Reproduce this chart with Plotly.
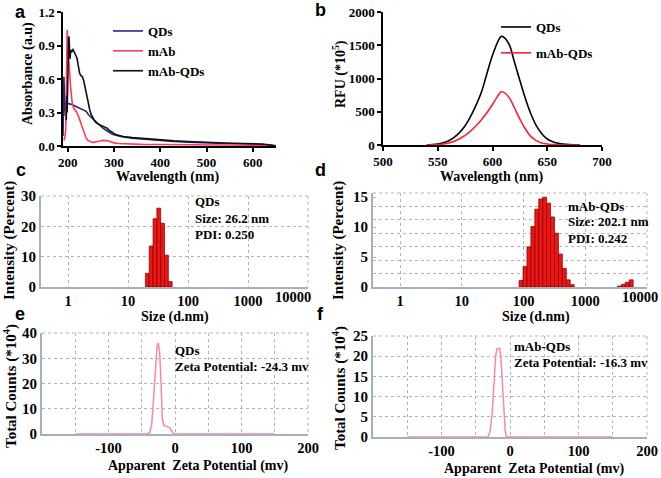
import plotly.graph_objects as go

# ---------------- data ----------------
# (a) UV-Vis absorbance
uv_wl_qds = [190, 191, 192, 193, 194, 195, 196, 197, 198, 200, 203, 206, 210, 215, 220, 225, 230, 235, 240, 245,
             250, 255, 260, 265, 270, 275, 280, 285, 290, 295, 300, 310, 320, 340, 360, 380, 400, 430, 460, 500,
             540, 580, 600, 620, 640, 650]
uv_abs_qds = [0.09, 0.25, 0.62, 0.45, 0.30, 0.27, 0.35, 0.40, 0.37, 0.38, 0.38, 0.375, 0.37, 0.36, 0.35, 0.345, 0.33, 0.32, 0.31, 0.28,
              0.26, 0.24, 0.22, 0.20, 0.18, 0.165, 0.15, 0.135, 0.12, 0.11, 0.10, 0.09, 0.08, 0.07, 0.062, 0.055, 0.048, 0.04, 0.034, 0.027,
              0.022, 0.02, 0.018, 0.012, 0.005, 0.0]
uv_wl_mab = [192, 194, 196, 197, 198, 199, 200, 202, 204, 206, 208, 210, 213, 216, 220, 224, 228, 232, 236, 240,
             244, 248, 252, 256, 260, 265, 270, 275, 280, 285, 290, 295, 300, 310, 330, 360, 400, 450, 500, 550, 600, 650]
uv_abs_mab = [0.05, 0.08, 0.15, 0.6, 0.95, 1.04, 0.95, 0.78, 0.66, 0.55, 0.46, 0.38, 0.34, 0.32, 0.30, 0.26, 0.21, 0.15, 0.10, 0.07,
              0.05, 0.04, 0.035, 0.033, 0.035, 0.04, 0.045, 0.05, 0.05, 0.048, 0.042, 0.035, 0.028, 0.022, 0.018, 0.015, 0.013, 0.012, 0.012, 0.01, 0.008, 0.005]
uv_wl_mabqds = [197, 198, 199, 200, 201, 202, 203, 204, 205, 207, 209, 211, 213, 216, 220, 223, 226, 229, 232, 235,
                239, 244, 248, 251, 255, 259, 264, 269, 275, 280, 285, 290, 295, 300, 305, 310, 320, 340, 360, 380,
                400, 430, 460, 500, 540, 580, 600, 620, 640, 650]
uv_abs_mabqds = [0.23, 0.45, 0.30, 0.70, 0.90, 0.97, 0.98, 0.80, 0.78, 0.86, 0.84, 0.87, 0.85, 0.83, 0.79, 0.72, 0.65, 0.63, 0.62, 0.58,
                 0.50, 0.38, 0.32, 0.28, 0.25, 0.22, 0.20, 0.19, 0.18, 0.17, 0.16, 0.14, 0.125, 0.11, 0.10, 0.095, 0.085, 0.075, 0.068, 0.06,
                 0.053, 0.046, 0.04, 0.032, 0.027, 0.023, 0.022, 0.018, 0.008, 0.0]

# (b) fluorescence
fl_wl = [540, 545, 550, 555, 560, 565, 570, 575, 580, 585, 590, 595, 600, 605, 608, 610, 615, 620, 625, 630,
         635, 640, 645, 650, 655, 660, 670, 680]
fl_qds = [0, 5, 15, 35, 65, 115, 190, 290, 430, 600, 800, 1080, 1350, 1560, 1635, 1625, 1520, 1250, 970, 700,
          470, 290, 170, 90, 50, 25, 5, 0]
fl_mabqds = [0, 2, 5, 15, 30, 55, 95, 145, 210, 290, 380, 490, 610, 740, 800, 795, 720, 560, 390, 240,
             130, 65, 30, 15, 5, 2, 0, 0]

# (c) size distribution QDs
size_qds = [21.04, 24.36, 28.21, 32.67, 37.84, 43.82, 50.75]
int_qds = [4.5, 13.5, 22.5, 26.0, 21.0, 10.5, 1.8]

# (d) size distribution mAb-QDs
size_mabqds = [91.28, 105.7, 122.4, 141.8, 164.2, 190.1, 220.2, 255.0, 295.3, 342.0, 396.1, 458.7, 531.2, 615.1,
               3580, 4145, 4801, 5560]
int_mabqds = [1.1, 3.4, 6.7, 10.1, 13.0, 14.7, 15.0, 14.0, 11.7, 9.0, 5.5, 3.1, 1.2, 0.4,
              0.15, 0.45, 0.8, 1.2]

# (e) zeta QDs
zeta_x_qds = [-150, -42, -38, -35, -32, -29, -27, -25, -23, -21, -19, -17, -14, -11, -8, -5, -2, 0, 150]
zeta_y_qds = [0, 0, 0.5, 4, 15, 28, 35, 36, 32, 20, 6, 3.5, 3, 2.8, 2.5, 1, 0, 0, 0]

# (f) zeta mAb-QDs
zeta_x_mabqds = [-150, -32, -29, -26, -23, -21, -19, -17, -15, -13, -11, -9, -7, -5, 150]
zeta_y_mabqds = [0, 0, 1.5, 6, 14, 20, 21.8, 22, 22, 19, 12, 5, 1.5, 0, 0]

size_ticks = [1, 10, 100, 1000, 10000]
size_tick_text = ["1", "10", "100", "1000", " "]
zeta_ticks = [-100, 0, 100, 200]
zeta_tick_text = ["-100", "0", "100", "200"]

# ---------------- styling ----------------
W, H = 661, 478
SERIF = "Liberation Serif"
SANS = "Liberation Sans"


def fnt(size, color="black", family=SERIF):
    return dict(family=family, size=size, color=color, weight="bold")


def px_x(p):
    return p / W


def px_y(p):
    return 1 - p / H


GRID = "#b4b4b4"
AXG = "#a6b0ba"
BAR_RATIO = 0.1468  # log-bin width factor (Malvern 70-class bins)

fig = go.Figure()

# (a)
fig.add_trace(go.Scatter(x=uv_wl_qds, y=uv_abs_qds, mode="lines", name="QDs",
                         line=dict(color="#27257a", width=1.6), xaxis="x", yaxis="y", legend="legend"))
fig.add_trace(go.Scatter(x=uv_wl_mab, y=uv_abs_mab, mode="lines", name="mAb",
                         line=dict(color="#ff3b5c", width=1.6), xaxis="x", yaxis="y", legend="legend"))
fig.add_trace(go.Scatter(x=uv_wl_mabqds, y=uv_abs_mabqds, mode="lines", name="mAb-QDs",
                         line=dict(color="#111111", width=1.6), xaxis="x", yaxis="y", legend="legend"))
# (b)
fig.add_trace(go.Scatter(x=fl_wl, y=fl_qds, mode="lines", name="QDs", line_shape="spline",
                         line=dict(color="#000000", width=1.6), xaxis="x2", yaxis="y2", legend="legend2",
                         legendgroup="b1"))
fig.add_trace(go.Scatter(x=fl_wl, y=fl_mabqds, mode="lines", name="mAb-QDs", line_shape="spline",
                         line=dict(color="#ff1f2f", width=1.6), xaxis="x2", yaxis="y2", legend="legend2",
                         legendgroup="b2"))
# (c)
fig.add_trace(go.Bar(x=size_qds, y=int_qds, width=[s * BAR_RATIO for s in size_qds],
                     marker=dict(color="#f01414", line=dict(color="#7a0000", width=0.7)),
                     xaxis="x3", yaxis="y3", showlegend=False))
# (d)
fig.add_trace(go.Bar(x=size_mabqds, y=int_mabqds, width=[s * BAR_RATIO for s in size_mabqds],
                     marker=dict(color="#f01414", line=dict(color="#7a0000", width=0.7)),
                     xaxis="x4", yaxis="y4", showlegend=False))
# (e)
fig.add_trace(go.Scatter(x=zeta_x_qds, y=zeta_y_qds, mode="lines",
                         line=dict(color="#ff86a6", width=1.5), xaxis="x5", yaxis="y5", showlegend=False))
# (f)
fig.add_trace(go.Scatter(x=zeta_x_mabqds, y=zeta_y_mabqds, mode="lines",
                         line=dict(color="#ff86a6", width=1.5), xaxis="x6", yaxis="y6", showlegend=False))

# domains (pixels)
dom = {
    "a": ((63, 276), (12, 146)),
    "b": ((383, 602), (12, 145)),
    "c": ((41, 308), (196, 287)),
    "d": ((373, 647), (193, 287)),
    "e": ((42, 308), (333, 434)),
    "f": ((373, 647), (336, 437)),
}


def xd(k):
    return [px_x(dom[k][0][0]), px_x(dom[k][0][1])]


def yd(k):
    return [px_y(dom[k][1][1]), px_y(dom[k][1][0])]


black_axis = dict(showline=True, linecolor="black", linewidth=1.5, ticks="outside", ticklen=4,
                  tickwidth=1.5, tickcolor="black", showgrid=False, zeroline=False, tickfont=fnt(13),
                  automargin=False)

dls_x = dict(showline=True, linecolor=AXG, linewidth=2, ticks="", showgrid=True, gridcolor=GRID,
             griddash="dot", gridwidth=1, zeroline=False, tickfont=fnt(14.5), automargin=False)
dls_y = dict(showline=True, linecolor=AXG, linewidth=2, ticks="inside", ticklen=3, tickcolor=AXG,
             showgrid=True, gridcolor=GRID, griddash="dot", gridwidth=1, zeroline=False, tickfont=fnt(15),
             automargin=False)

fig.update_layout(
    width=W, height=H, autosize=False,
    margin=dict(l=0, r=0, t=0, b=0, autoexpand=False),
    paper_bgcolor="white", plot_bgcolor="white",
    showlegend=True,
    xaxis=dict(domain=xd("a"), anchor="y", range=[190, 650], tickvals=[200, 300, 400, 500, 600], **black_axis),
    yaxis=dict(domain=yd("a"), anchor="x", range=[0, 1.2], tickvals=[0, 0.3, 0.6, 0.9, 1.2],
               ticktext=["0.0", "0.3", "0.6", "0.9", "1.2"], **black_axis),
    xaxis2=dict(domain=xd("b"), anchor="y2", range=[500, 700], tickvals=[500, 550, 600, 650, 700], **black_axis),
    yaxis2=dict(domain=yd("b"), anchor="x2", range=[0, 2000], tickvals=[0, 500, 1000, 1500, 2000], **black_axis),
    xaxis3=dict(domain=xd("c"), anchor="y3", type="log", range=[-0.45, 4], tickvals=size_ticks,
                ticktext=size_tick_text, **dls_x),
    yaxis3=dict(domain=yd("c"), anchor="x3", range=[0, 30], tickvals=[0, 10, 20, 30], **dls_y),
    xaxis4=dict(domain=xd("d"), anchor="y4", type="log", range=[-0.44, 4], tickvals=size_ticks,
                ticktext=size_tick_text, **dls_x),
    yaxis4=dict(domain=yd("d"), anchor="x4", range=[0, 15.7], tickvals=[0, 5, 10, 15],
                minor=dict(tick0=0, dtick=15.7 / 7, showgrid=True, gridcolor=GRID, griddash="dot", ticks=""),
                **{**dls_y, "showgrid": False}),
    xaxis5=dict(domain=xd("e"), anchor="y5", range=[-200, 200], tickvals=zeta_ticks, ticktext=zeta_tick_text,
                minor=dict(tick0=0, dtick=50, showgrid=True, gridcolor=GRID, griddash="dot", ticks=""), **dls_x),
    yaxis5=dict(domain=yd("e"), anchor="x5", range=[0, 40], tickvals=[0, 10, 20, 30, 40], **dls_y),
    xaxis6=dict(domain=xd("f"), anchor="y6", range=[-200, 200], tickvals=zeta_ticks, ticktext=zeta_tick_text,
                minor=dict(tick0=0, dtick=50, showgrid=True, gridcolor=GRID, griddash="dot", ticks=""), **dls_x),
    yaxis6=dict(domain=yd("f"), anchor="x6", range=[0, 25], tickvals=[0, 5, 10, 15, 20, 25], **dls_y),
    legend=dict(x=px_x(108), y=px_y(16), xanchor="left", yanchor="top", bgcolor="rgba(0,0,0,0)",
                font=fnt(13), itemwidth=30, tracegroupgap=0),
    legend2=dict(x=px_x(496), y=px_y(12), xanchor="left", yanchor="top", bgcolor="rgba(0,0,0,0)",
                 font=fnt(13), itemwidth=30, tracegroupgap=6),
)

# top/right dotted borders for the DLS/zeta panels
for k in ["c", "d", "e", "f"]:
    (x0, x1), (y0, y1) = dom[k]
    fig.add_shape(type="line", xref="paper", yref="paper", x0=px_x(x0), x1=px_x(x1), y0=px_y(y0), y1=px_y(y0),
                  line=dict(color=GRID, width=1, dash="dot"))
    fig.add_shape(type="line", xref="paper", yref="paper", x0=px_x(x1), x1=px_x(x1), y0=px_y(y0), y1=px_y(y1),
                  line=dict(color=GRID, width=1, dash="dot"))

ann = []


def text(x, y, s, size=13, angle=0, xanchor="center", family=SERIF):
    ann.append(dict(x=px_x(x), y=px_y(y), xref="paper", yref="paper", text=s, showarrow=False,
                    textangle=angle, xanchor=xanchor, yanchor="middle", font=fnt(size, family=family)))


# panel letters
for lab, (x, y) in {"a": (20, 12), "b": (320, 10), "c": (21, 170), "d": (320, 170),
                    "e": (20, 314), "f": (320, 314)}.items():
    text(x, y, lab, size=18, family=SANS)

# the last size tick labels sit inside the frame's right edge
text(293, 297, "10000", 14.5)
text(640, 297, "10000", 14.5)

# axis titles
text(28, 74, "Absorbance (a.u)", 14, -90)
text(167, 177, "Wavelength (nm)", 14)
text(339, 74, "RFU (*10<sup>5</sup>)", 14, -90)
text(491, 177, "Wavelength (nm)", 14)
text(10, 241, "Intensity (Percent)", 15, -90)
text(175, 317, "Size (d.nm)", 14)
text(339, 241, "Intensity (Percent)", 15, -90)
text(536, 317, "Size (d.nm)", 14)
text(10, 386, "Total Counts (*10<sup>4</sup>)", 15, -90)
text(198, 466, "Apparent  Zeta Potential (mv)", 14)
text(339, 388, "Total Counts (*10<sup>4</sup>)", 15, -90)
text(534, 469, "Apparent  Zeta Potential (mv)", 14)

# in-plot labels
text(193, 202, "QDs", 13, xanchor="left")
text(193, 218, "Size: 26.2 nm", 13, xanchor="left")
text(193, 234, "PDI: 0.250", 13, xanchor="left")
text(566, 206, "mAb-QDs", 13, xanchor="left")
text(566, 222, "Size: 202.1 nm", 13, xanchor="left")
text(566, 238, "PDI: 0.242", 13, xanchor="left")
text(173, 350, "QDs", 13, xanchor="left")
text(173, 366, "Zeta Potential: -24.3 mv", 13, xanchor="left")
text(512, 346, "mAb-QDs", 13, xanchor="left")
text(512, 362, "Zeta Potential: -16.3 mv", 13, xanchor="left")

fig.update_layout(annotations=ann)
fig.write_html("out.html", config={"displayModeBar": False},
               post_script="document.body.style.margin='0';document.body.style.overflow='hidden';")
